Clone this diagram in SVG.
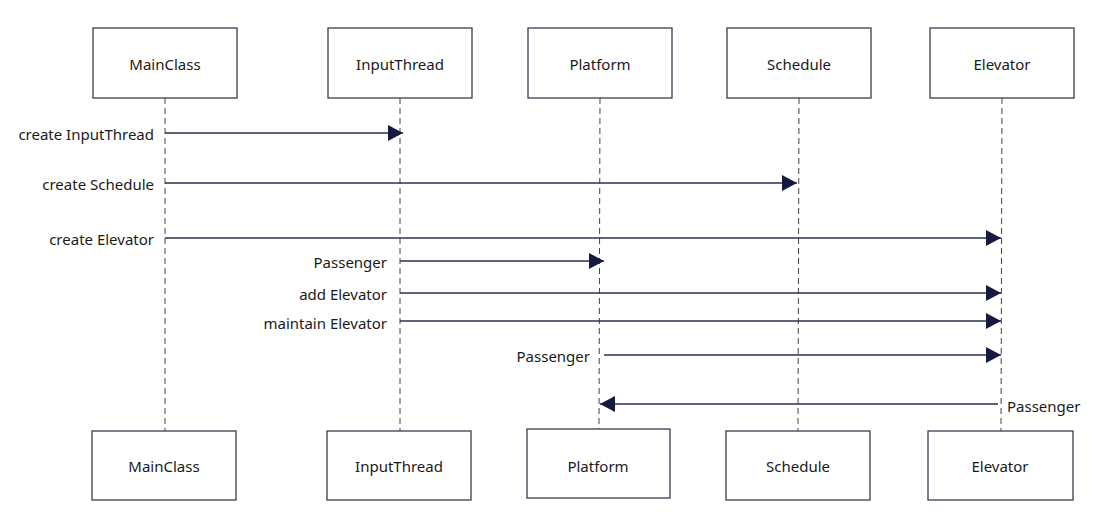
<svg xmlns="http://www.w3.org/2000/svg" width="1120" height="522" viewBox="0 0 1120 522">
<style>
.box{fill:#fff;stroke:#3a3d52;stroke-width:1.3}
.lbl{font-family:"Noto Sans","Open Sans",sans-serif;font-size:15px;fill:#1a1a1a}
.life{stroke:#444;stroke-width:1;stroke-dasharray:6,4;fill:none}
.msg{stroke:#2e3150;stroke-width:1.5;fill:none;marker-end:url(#ah)}
</style>
<defs>
<marker id="ah" markerUnits="userSpaceOnUse" markerWidth="16" markerHeight="16" refX="15" refY="8" orient="auto">
<path d="M0,0 L15,8 L0,16 z" fill="#161a40"/>
</marker>
</defs>
<rect width="1120" height="522" fill="#fff"/>
<g id="lifelines">
<line class="life" x1="165" y1="98" x2="165" y2="431"/>
<line class="life" x1="400" y1="98" x2="400" y2="431"/>
<line class="life" x1="600" y1="98" x2="599" y2="429"/>
<line class="life" x1="799" y1="98" x2="798" y2="431"/>
<line class="life" x1="1002" y1="98" x2="1001" y2="431"/>
</g>
<g id="MainClass"><rect class="box" x="93" y="28" width="144" height="70"/><text class="lbl" x="165" y="70" text-anchor="middle">MainClass</text></g>
<g id="InputThread"><rect class="box" x="328" y="28" width="144" height="70"/><text class="lbl" x="400" y="70" text-anchor="middle">InputThread</text></g>
<g id="Platform"><rect class="box" x="528" y="28" width="144" height="70"/><text class="lbl" x="600" y="70" text-anchor="middle">Platform</text></g>
<g id="Schedule"><rect class="box" x="727" y="28" width="144" height="70"/><text class="lbl" x="799" y="70" text-anchor="middle">Schedule</text></g>
<g id="Elevator"><rect class="box" x="930" y="28" width="144" height="70"/><text class="lbl" x="1002" y="70" text-anchor="middle">Elevator</text></g>
<g id="MainClass2"><rect class="box" x="92" y="431" width="144" height="69"/><text class="lbl" x="164" y="472" text-anchor="middle">MainClass</text></g>
<g id="InputThread2"><rect class="box" x="327" y="431" width="144" height="69"/><text class="lbl" x="399" y="472" text-anchor="middle">InputThread</text></g>
<g id="Platform2"><rect class="box" x="527" y="429" width="143" height="69"/><text class="lbl" x="598" y="472" text-anchor="middle">Platform</text></g>
<g id="Schedule2"><rect class="box" x="726" y="431" width="144" height="69"/><text class="lbl" x="798" y="472" text-anchor="middle">Schedule</text></g>
<g id="Elevator2"><rect class="box" x="928" y="431" width="145" height="69"/><text class="lbl" x="1000" y="472" text-anchor="middle">Elevator</text></g>
<g id="connectors">
<line class="msg" x1="165" y1="133" x2="403" y2="133"/>
<line class="msg" x1="165" y1="183" x2="797" y2="183"/>
<line class="msg" x1="165" y1="238" x2="1001" y2="238"/>
<line class="msg" x1="400" y1="261" x2="604" y2="261"/>
<line class="msg" x1="400" y1="293" x2="1001" y2="293"/>
<line class="msg" x1="400" y1="321" x2="1001" y2="321"/>
<line class="msg" x1="604" y1="355" x2="1001" y2="355"/>
<line class="msg" x1="998" y1="404" x2="600" y2="404"/>
</g>
<g id="labels">
<text class="lbl" x="154" y="140" text-anchor="end">create InputThread</text>
<text class="lbl" x="154" y="190" text-anchor="end">create Schedule</text>
<text class="lbl" x="154" y="245" text-anchor="end">create Elevator</text>
<text class="lbl" x="387" y="268" text-anchor="end">Passenger</text>
<text class="lbl" x="387" y="300" text-anchor="end">add Elevator</text>
<text class="lbl" x="387" y="329" text-anchor="end">maintain Elevator</text>
<text class="lbl" x="590" y="362" text-anchor="end">Passenger</text>
<text class="lbl" x="1007" y="412">Passenger</text>
</g>
</svg>
